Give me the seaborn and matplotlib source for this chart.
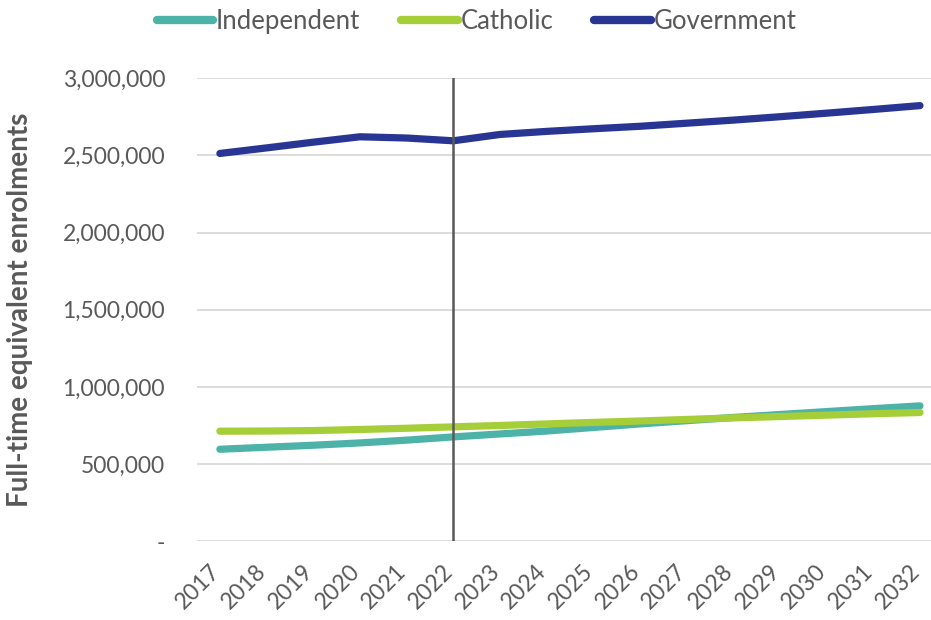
import matplotlib
matplotlib.use("Agg")
import matplotlib.pyplot as plt
import matplotlib.transforms as mtransforms
import seaborn as sns
import pandas as pd
from matplotlib.ticker import FuncFormatter
from matplotlib.lines import Line2D

years = list(range(2017, 2033))
independent = [596000, 609000, 622000, 637000, 655000, 676000, 695000, 714000,
               737000, 760000, 781000, 802000, 821000, 840000, 859000, 877000]
catholic = [713000, 714000, 717000, 724000, 732000, 741000, 750000, 760000,
            770000, 779000, 789000, 799000, 808000, 817000, 826000, 834000]
government = [2512000, 2548000, 2585000, 2620000, 2612000, 2594000, 2635000, 2655000,
              2672000, 2688000, 2708000, 2728000, 2750000, 2773000, 2797000, 2822000]
series_names = ["Independent", "Catholic", "Government"]
colors = ["#4DB3A9", "#A6CE39", "#283593"]
yticks = [0, 500000, 1000000, 1500000, 2000000, 2500000, 3000000]
divider_year = 2022

df = pd.DataFrame({
    "Year": years * 3,
    "Enrolments": independent + catholic + government,
    "Sector": [series_names[0]] * 16 + [series_names[1]] * 16 + [series_names[2]] * 16,
})

sns.set_style("white")
plt.rcParams["font.family"] = ["Lato", "DejaVu Sans"]
grey = "#595959"

fig = plt.figure(figsize=(9.31, 6.2), dpi=100)
ax = fig.add_axes([0.2116, 0.127, 0.7884, 0.747])

sns.lineplot(data=df, x="Year", y="Enrolments", hue="Sector", palette=colors,
             hue_order=series_names, linewidth=5.2, ax=ax, legend=False,
             solid_capstyle="round")

ax.set_ylim(0, 3000000)
ax.set_xlim(2016.51, 2032.236)
ax.set_yticks(yticks)
ax.yaxis.set_major_formatter(FuncFormatter(lambda v, p: "-" if v == 0 else f"{int(v):,}"))
ax.set_xticks(years)
ax.tick_params(axis="y", labelsize=16.5, colors=grey, length=0, pad=23)
ax.tick_params(axis="x", length=0, pad=14)
ax.set_xticklabels([str(y) for y in years], rotation=45, ha="right",
                   rotation_mode="anchor", fontsize=16.5, color=grey)
offset = mtransforms.ScaledTranslation(-11 / 100, 0, fig.dpi_scale_trans)
for lab in ax.get_xticklabels():
    lab.set_transform(lab.get_transform() + offset)
ax.grid(axis="y", color="#D9D9D9", linewidth=1.3)
ax.set_axisbelow(True)
for s in ax.spines.values():
    s.set_visible(False)
ax.axvline(divider_year, color=grey, linewidth=1.8, zorder=5)

ax.set_xlabel("")
ax.set_ylabel("Full-time equivalent enrolments", fontsize=20, fontweight="bold",
              color=grey)
ax.yaxis.set_label_coords(-0.2234, 0.5)

handles = [Line2D([0], [0], color=c, linewidth=6, solid_capstyle="round") for c in colors]
fig.legend(handles, series_names, loc="center", bbox_to_anchor=(0.512, 0.965), ncol=3,
           frameon=False, fontsize=18.5, handlelength=2.2, handletextpad=0.1,
           columnspacing=1.6, labelcolor=grey)

fig.savefig("out.png", dpi=100)
